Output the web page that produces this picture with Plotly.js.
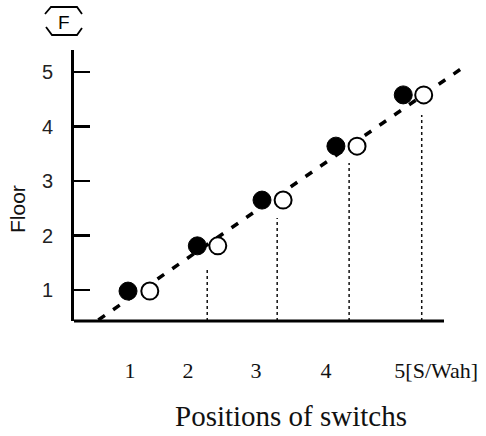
<!DOCTYPE html>
<html>
<head>
<meta charset="utf-8">
<script src="https://cdn.plot.ly/plotly-3.0.1.min.js"></script>
<style>html,body{margin:0;padding:0;background:#fff;}#chart{width:486px;height:436px;}</style>
</head>
<body>
<div id="chart"></div>
<script>
// ---- data ----
const switchLabels = ['1', '2', '3', '4', '5[S/Wah]'];
const labelPos = [1.0, 1.88, 2.91, 3.97, 5.64];
const floorTicks = [1, 2, 3, 4, 5];
const filledX = [0.97, 2.02, 3.0, 4.12, 5.14];
const openX = [1.30, 2.33, 3.32, 4.44, 5.45];
const floors = [0.98, 1.81, 2.65, 3.64, 4.58];
const dropX = [2.17, 3.23, 4.32, 5.42];
const dropTop = [1.40, 2.32, 3.33, 4.21];
const fitX = [0.52, 6.03];
const fitY = [0.45, 5.07];

const yMin = 0.431, yMax = 5.404;
const xMin = 0.1515, xMax = 6.1515;

// build drop-line segments
const dx = [], dy = [];
dropX.forEach((x, i) => { dx.push(x, x, null); dy.push(yMin, dropTop[i], null); });

const traces = [
  { x: dx, y: dy, mode: 'lines', line: { color: '#111', width: 1.5, dash: 'dot' }, hoverinfo: 'skip' },
  { x: fitX, y: fitY, mode: 'lines', line: { color: '#000', width: 3.5, dash: '8px,10px' }, hoverinfo: 'skip' },
  { x: filledX, y: floors, mode: 'markers', marker: { size: 18, color: '#000', line: { color: '#000', width: 1 } } },
  { x: openX, y: floors, mode: 'markers', marker: { size: 17, color: '#fff', line: { color: '#000', width: 2 } } }
];

const px = p => (p - 74) / 396;
const py = p => (321 - p) / 271;

const layout = {
  width: 486, height: 436,
  margin: { l: 74, r: 16, t: 50, b: 115 },
  paper_bgcolor: '#fff', plot_bgcolor: '#fff',
  showlegend: false,
  xaxis: {
    range: [xMin, xMax], showgrid: false, zeroline: false, showline: false,
    tickvals: labelPos, ticktext: switchLabels, ticks: '',
    ticklabelstandoff: 34,
    tickfont: { family: 'Liberation Serif, serif', size: 22, color: '#111' }
  },
  yaxis: {
    range: [yMin, yMax], showgrid: false, zeroline: false,
    showline: true, linecolor: '#000', linewidth: 3,
    tickvals: floorTicks, ticks: 'inside', ticklen: 16, tickwidth: 2.5, tickcolor: '#000',
    ticklabelstandoff: 14,
    tickfont: { family: 'Liberation Sans, sans-serif', size: 20, color: '#222' }
  },
  shapes: [
    { type: 'line', xref: 'paper', yref: 'paper', x0: 0, x1: px(444), y0: 0, y1: 0, line: { color: '#000', width: 3 } },
    { type: 'path', xref: 'paper', yref: 'paper',
      path: `M${px(45)},${py(14)} L${px(51)},${py(7)} L${px(77)},${py(7)} L${px(82)},${py(14)}`,
      line: { color: '#000', width: 1.8 } },
    { type: 'path', xref: 'paper', yref: 'paper',
      path: `M${px(46)},${py(27)} L${px(52)},${py(35)} L${px(77)},${py(35)} L${px(82)},${py(28)}`,
      line: { color: '#000', width: 1.8 } }
  ],
  annotations: [
    { text: 'F', xref: 'paper', yref: 'paper', x: px(64), y: py(22), showarrow: false,
      xanchor: 'center', yanchor: 'middle', font: { family: 'Liberation Sans, sans-serif', size: 19, color: '#000' } },
    { text: 'Floor', xref: 'paper', yref: 'paper', x: px(17), y: py(209), showarrow: false, textangle: -90,
      xanchor: 'center', yanchor: 'middle', font: { family: 'Liberation Sans, sans-serif', size: 21, color: '#111' } },
    { text: 'Positions of switchs', xref: 'paper', yref: 'paper', x: px(291), y: py(416), showarrow: false,
      xanchor: 'center', yanchor: 'middle', font: { family: 'Liberation Serif, serif', size: 29, color: '#111' } }
  ]
};

Plotly.newPlot('chart', traces, layout, { staticPlot: true, displayModeBar: false });
</script>
</body>
</html>
